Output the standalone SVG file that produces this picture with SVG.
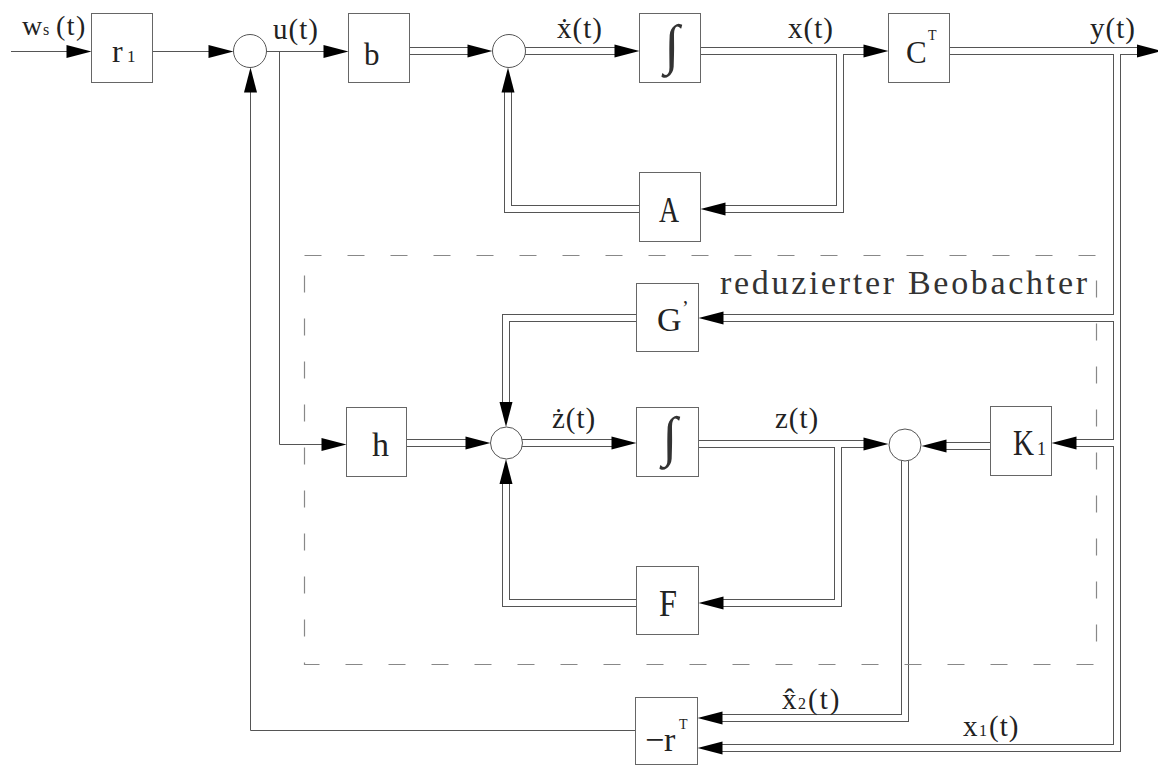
<svg xmlns="http://www.w3.org/2000/svg" xmlns:xlink="http://www.w3.org/1999/xlink" width="1158" height="765" viewBox="0 0 1158 765">
<style>
.box{fill:#fff;stroke:#666;stroke-width:1}
.sum{fill:#fff;stroke:#555;stroke-width:1}
.ln{fill:none;stroke:#555;stroke-width:1}
.po{fill:none;stroke:#555;stroke-width:8;stroke-linejoin:miter;stroke-linecap:butt}
.pi{fill:none;stroke:#fff;stroke-width:6;stroke-linejoin:miter;stroke-linecap:butt}
.dash{fill:none;stroke:#888;stroke-width:1.2;stroke-dasharray:17 26}
.t{font-family:"Liberation Serif","DejaVu Serif",serif;fill:#222}
.lab{font-size:29px;letter-spacing:1px}
.ttl{font-family:"Liberation Serif","DejaVu Serif",serif;font-size:34px;fill:#333}
.ig{font-family:"Liberation Serif","DejaVu Serif",serif;font-size:55px;fill:#333}
</style>
<defs>
<path id="ah" d="M0,0 L-25,-6.5 L-25,6.5 Z"/>
<path id="p1" d="M409.5,51 H470"/>
<path id="p2" d="M509,51 H617"/>
<path id="p3" d="M700,51 H866"/>
<path id="p4" d="M840,51 V209 H723"/>
<path id="p5" d="M645,209 H508 V90"/>
<path id="p6" d="M949,51 H1140"/>
<path id="p7" d="M1117,51 V748 H720"/>
<path id="p8" d="M1117,318 H721"/>
<path id="p9" d="M1117,443 H1074"/>
<path id="p10" d="M640,318 H506 V405"/>
<path id="p11" d="M406,443 H468"/>
<path id="p12" d="M506,443 H614"/>
<path id="p13" d="M698,444 H866"/>
<path id="p14" d="M838,444 V603 H721"/>
<path id="p15" d="M640,603 H506 V481"/>
<path id="p16" d="M995,446 H944"/>
<path id="p17" d="M905,445 V718 H720"/>
</defs>
<rect width="1158" height="765" fill="#fff"/>
<g id="connectors">
<g class="ln">
<path d="M11,51.5 H70"/>
<path d="M152,51.5 H212"/>
<path d="M266,51.5 H327"/>
<path d="M279.5,51.5 V444.5 H325"/>
<path d="M636,730.5 H250.5 V90"/>
</g>
<g class="po">
<use xlink:href="#p1"/><use xlink:href="#p2"/><use xlink:href="#p3"/><use xlink:href="#p4"/><use xlink:href="#p5"/><use xlink:href="#p6"/><use xlink:href="#p7"/><use xlink:href="#p8"/><use xlink:href="#p9"/><use xlink:href="#p10"/><use xlink:href="#p11"/><use xlink:href="#p12"/><use xlink:href="#p13"/><use xlink:href="#p14"/><use xlink:href="#p15"/><use xlink:href="#p16"/><use xlink:href="#p17"/>
</g>
<g class="pi">
<use xlink:href="#p1"/><use xlink:href="#p2"/><use xlink:href="#p3"/><use xlink:href="#p4"/><use xlink:href="#p5"/><use xlink:href="#p6"/><use xlink:href="#p7"/><use xlink:href="#p8"/><use xlink:href="#p9"/><use xlink:href="#p10"/><use xlink:href="#p11"/><use xlink:href="#p12"/><use xlink:href="#p13"/><use xlink:href="#p14"/><use xlink:href="#p15"/><use xlink:href="#p16"/><use xlink:href="#p17"/>
</g>
</g>
<g id="observer">
<rect class="dash" x="304.5" y="255.5" width="792" height="409"/>
<text class="ttl" x="720" y="294" textLength="367" lengthAdjust="spacing">reduzierter Beobachter</text>
</g>
<g id="node-r1"><rect class="box" x="91.5" y="13.5" width="61" height="69"/><text class="t" x="112" y="62" font-size="32">r<tspan x="127" font-size="17">1</tspan></text></g>
<g id="node-sum1"><circle class="sum" cx="250" cy="51" r="16.5"/></g>
<g id="node-b"><rect class="box" x="348.5" y="13.5" width="61" height="69"/><text class="t" x="364" y="65" font-size="31">b</text></g>
<g id="node-sum2"><circle class="sum" cx="509" cy="51" r="16.5"/></g>
<g id="node-int1"><rect class="box" x="639.5" y="13.5" width="61" height="69"/><text class="ig" x="672" y="63" text-anchor="middle">∫</text></g>
<g id="node-CT"><rect class="box" x="888.5" y="13.5" width="61" height="69"/><text class="t" x="906" y="63" font-size="31">C<tspan x="928" y="40" font-size="14">T</tspan></text></g>
<g id="node-A"><rect class="box" x="639.5" y="172.5" width="61" height="69"/><text class="t" x="659" y="222" font-size="36" textLength="20" lengthAdjust="spacingAndGlyphs">A</text></g>
<g id="node-G"><rect class="box" x="636.5" y="283.5" width="62" height="68"/><text class="t" x="657" y="331" font-size="34">G<tspan x="682" y="315" font-size="20">’</tspan></text></g>
<g id="node-h"><rect class="box" x="346.5" y="407.5" width="60" height="69"/><text class="t" x="372" y="456" font-size="34">h</text></g>
<g id="node-sum4"><circle class="sum" cx="506.5" cy="443" r="16"/></g>
<g id="node-int2"><rect class="box" x="636.5" y="407.5" width="62" height="69"/><text class="ig" x="670" y="455" text-anchor="middle">∫</text></g>
<g id="node-sum3"><circle class="sum" cx="905" cy="445" r="16"/></g>
<g id="node-K1"><rect class="box" x="990.5" y="406.5" width="61" height="69"/><text class="t" x="1013" y="455" font-size="36"><tspan textLength="21" lengthAdjust="spacingAndGlyphs">K</tspan><tspan x="1037" font-size="18">1</tspan></text></g>
<g id="node-F"><rect class="box" x="636.5" y="566.5" width="62" height="68"/><text class="t" x="659" y="616" font-size="38" textLength="18" lengthAdjust="spacingAndGlyphs">F</text></g>
<g id="node-rT"><rect class="box" x="635.5" y="697.5" width="62" height="67"/><text class="t" x="645" y="751" font-size="34">−<tspan x="664">r</tspan><tspan x="679" y="729" font-size="14">T</tspan></text></g>
<g id="arrows" fill="#000">
<use xlink:href="#ah" transform="translate(91.5,51.5)"/>
<use xlink:href="#ah" transform="translate(233.5,51.5)"/>
<use xlink:href="#ah" transform="translate(348.5,51.5)"/>
<use xlink:href="#ah" transform="translate(492.5,51)"/>
<use xlink:href="#ah" transform="translate(639.5,51)"/>
<use xlink:href="#ah" transform="translate(888.5,51)"/>
<use xlink:href="#ah" transform="translate(1162,51)"/>
<use xlink:href="#ah" transform="translate(700.5,209) rotate(180)"/>
<use xlink:href="#ah" transform="translate(508,67.5) rotate(-90)"/>
<use xlink:href="#ah" transform="translate(250.5,67.5) rotate(-90)"/>
<use xlink:href="#ah" transform="translate(346.5,444.5)"/>
<use xlink:href="#ah" transform="translate(490.5,443)"/>
<use xlink:href="#ah" transform="translate(636.5,443)"/>
<use xlink:href="#ah" transform="translate(506,427) rotate(90)"/>
<use xlink:href="#ah" transform="translate(506,459) rotate(-90)"/>
<use xlink:href="#ah" transform="translate(888.5,444)"/>
<use xlink:href="#ah" transform="translate(698.5,603) rotate(180)"/>
<use xlink:href="#ah" transform="translate(921.5,446) rotate(180)"/>
<use xlink:href="#ah" transform="translate(698.5,318) rotate(180)"/>
<use xlink:href="#ah" transform="translate(1051.5,443) rotate(180)"/>
<use xlink:href="#ah" transform="translate(697.5,718) rotate(180)"/>
<use xlink:href="#ah" transform="translate(697.5,748) rotate(180)"/>
</g>
<g id="labels">
<text class="t" x="22" y="35" font-size="28">w<tspan x="43" font-size="16">s</tspan><tspan x="56" letter-spacing="1.5">(t)</tspan></text>
<text class="t lab" x="273" y="39">u(t)</text>
<text class="t lab" x="557" y="38">ẋ(t)</text>
<text class="t lab" x="788" y="38">x(t)</text>
<text class="t lab" x="1090" y="38">y(t)</text>
<text class="t lab" x="552" y="428">ż(t)</text>
<text class="t lab" x="775" y="428">z(t)</text>
<text class="t" x="782" y="709" font-size="29">x̂<tspan x="798" font-size="16">2</tspan><tspan x="808" letter-spacing="2">(t)</tspan></text>
<text class="t" x="963" y="736" font-size="29">x<tspan x="979" font-size="16">1</tspan><tspan x="989" letter-spacing="1">(t)</tspan></text>
</g>
</svg>
